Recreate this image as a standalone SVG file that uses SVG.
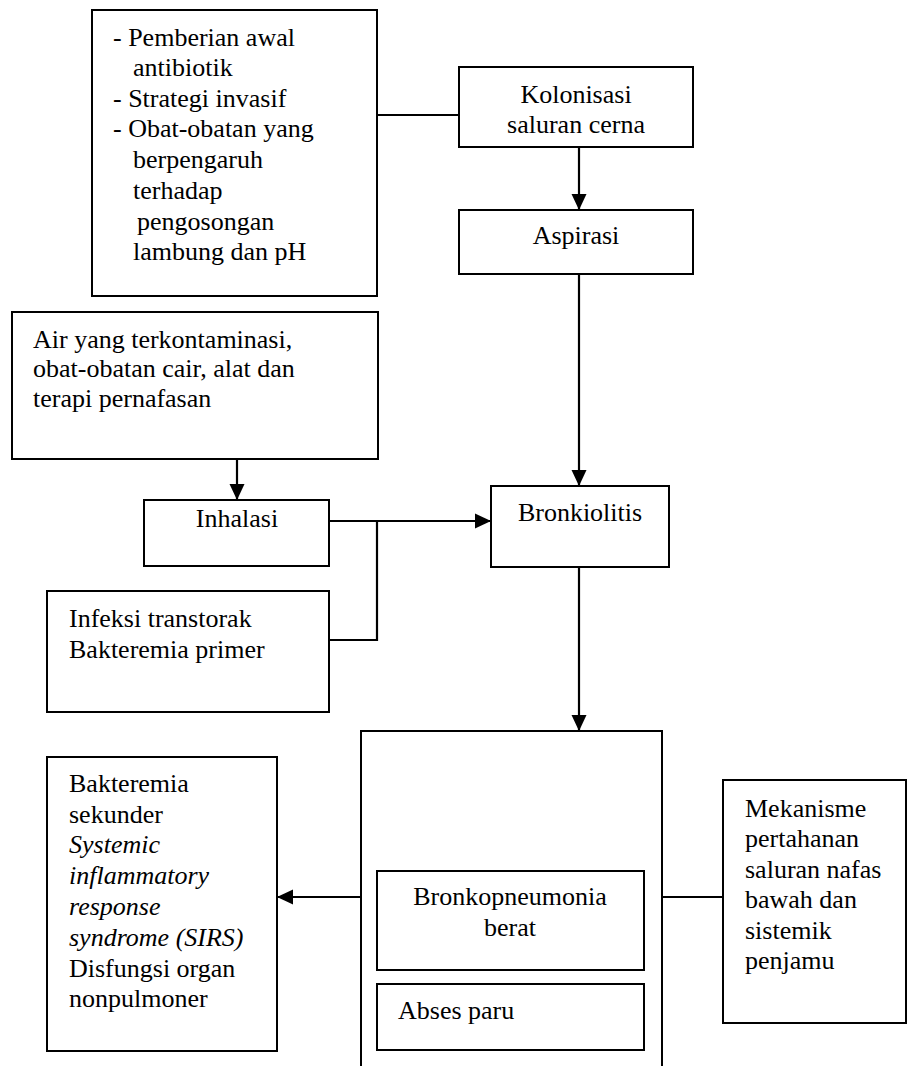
<svg xmlns="http://www.w3.org/2000/svg" width="908" height="1066" viewBox="0 0 908 1066">
<style>
.n { fill: #ffffff; stroke: #000000; stroke-width: 2; }
.box { fill: none; stroke: #000000; stroke-width: 2; }
.c { fill: none; stroke: #000000; stroke-width: 2.2; }
text { font-family: "Liberation Serif", "Times New Roman", serif; font-size: 26px; fill: #000000; }
.m { text-anchor: middle; }
.i { font-style: italic; }
</style>
<defs>
<marker id="arr" viewBox="0 0 16 16" markerWidth="16" markerHeight="16" refX="16" refY="8" orient="auto" markerUnits="userSpaceOnUse">
<path d="M0,0.5 L16,8 L0,15.5 Z" fill="#000000"/>
</marker>
</defs>
<rect x="0" y="0" width="908" height="1066" fill="#ffffff"/>
<g id="connectors">
<line class="c" x1="377" y1="115" x2="459" y2="115"/>
<line class="c" x1="579" y1="147" x2="579" y2="210" marker-end="url(#arr)"/>
<line class="c" x1="579" y1="274" x2="579" y2="486" marker-end="url(#arr)"/>
<line class="c" x1="237" y1="459" x2="237" y2="500" marker-end="url(#arr)"/>
<line class="c" x1="329" y1="521" x2="491" y2="521" marker-end="url(#arr)"/>
<polyline class="c" points="377,521 377,640 329,640"/>
<line class="c" x1="579" y1="567" x2="579" y2="731" marker-end="url(#arr)"/>
<line class="c" x1="361" y1="897" x2="277" y2="897" marker-end="url(#arr)"/>
<line class="c" x1="662" y1="897" x2="723" y2="897"/>
</g>
<g id="node-faktor">
<rect class="n" x="92" y="10" width="285" height="286"/>
<text x="113" y="46">- Pemberian awal</text>
<text x="133" y="76">antibiotik</text>
<text x="113" y="107">- Strategi invasif</text>
<text x="113" y="137">- Obat-obatan yang</text>
<text x="133" y="168">berpengaruh</text>
<text x="133" y="199">terhadap</text>
<text x="137" y="230">pengosongan</text>
<text x="133" y="260">lambung dan pH</text>
</g>
<g id="node-kolonisasi">
<rect class="n" x="459" y="67" width="234" height="80"/>
<text class="m" x="576" y="103">Kolonisasi</text>
<text class="m" x="576" y="133">saluran cerna</text>
</g>
<g id="node-aspirasi">
<rect class="n" x="459" y="210" width="234" height="64"/>
<text class="m" x="576" y="244">Aspirasi</text>
</g>
<g id="node-air">
<rect class="n" x="12" y="312" width="366" height="147"/>
<text x="33" y="348">Air yang terkontaminasi,</text>
<text x="33" y="377">obat-obatan cair, alat dan</text>
<text x="33" y="407">terapi pernafasan</text>
</g>
<g id="node-inhalasi">
<rect class="n" x="144" y="500" width="185" height="66"/>
<text class="m" x="237" y="527">Inhalasi</text>
</g>
<g id="node-infeksi">
<rect class="n" x="47" y="591" width="282" height="121"/>
<text x="69" y="627">Infeksi transtorak</text>
<text x="69" y="658">Bakteremia primer</text>
</g>
<g id="node-bronkiolitis">
<rect class="n" x="491" y="486" width="178" height="81"/>
<text class="m" x="580" y="521">Bronkiolitis</text>
</g>
<g id="node-container">
<path class="box" d="M361,1067 V731 H662 V1067"/>
</g>
<g id="node-bronkopneumonia">
<rect class="n" x="377" y="871" width="267" height="99"/>
<text class="m" x="510" y="905">Bronkopneumonia</text>
<text class="m" x="510" y="936">berat</text>
</g>
<g id="node-abses">
<rect class="n" x="377" y="984" width="267" height="66"/>
<text x="398" y="1019">Abses paru</text>
</g>
<g id="node-sirs">
<rect class="n" x="47" y="757" width="230" height="294"/>
<text x="69" y="792">Bakteremia</text>
<text x="69" y="823">sekunder</text>
<text class="i" x="69" y="853">Systemic</text>
<text class="i" x="69" y="884">inflammatory</text>
<text class="i" x="69" y="915">response</text>
<text class="i" x="69" y="946">syndrome (SIRS)</text>
<text x="69" y="977">Disfungsi organ</text>
<text x="69" y="1007">nonpulmoner</text>
</g>
<g id="node-mekanisme">
<rect class="n" x="723" y="780" width="183" height="243"/>
<text x="745" y="817">Mekanisme</text>
<text x="745" y="847">pertahanan</text>
<text x="745" y="878">saluran nafas</text>
<text x="745" y="908">bawah dan</text>
<text x="745" y="939">sistemik</text>
<text x="745" y="969">penjamu</text>
</g>
</svg>
